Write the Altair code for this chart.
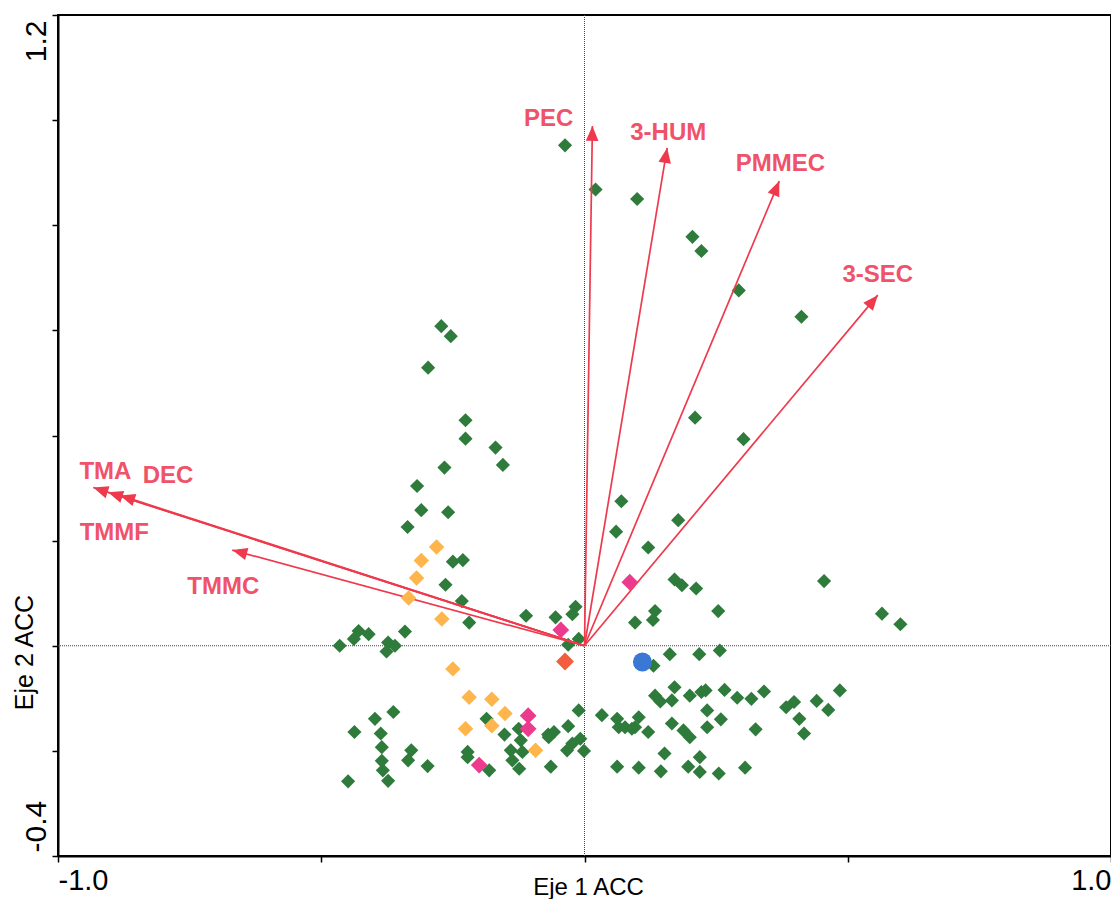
import altair as alt
import pandas as pd

# ---- site scores (Eje 1, Eje 2) ----
green_x = [-0.037, 0.021, 0.100, 0.205, 0.222, 0.293, 0.412, -0.272, -0.254, -0.297,
           0.210, 0.302, -0.226, -0.226, -0.169, -0.155, -0.266, -0.318, 0.070, 0.178,
           0.060, 0.121, -0.310, -0.259, -0.336, -0.250, -0.231, -0.264, -0.233, -0.219,
           -0.111, -0.055, -0.017, -0.023, -0.341, -0.429, -0.410, -0.438, -0.465, -0.373,
           -0.360, -0.376, -0.031, -0.011, 0.096, 0.171, 0.185, 0.212, 0.455, 0.134,
           0.130, 0.254, 0.565, 0.600, 0.162, 0.218, 0.257, 0.131, 0.171, 0.134,
           0.144, 0.166, 0.200, 0.222, 0.230, 0.266, 0.290, 0.317, 0.341, 0.383,
           0.398, 0.441, 0.463, 0.485, 0.408, 0.417, -0.011, 0.033, 0.062, 0.065,
           0.077, 0.103, 0.096, 0.090, 0.121, 0.166, 0.188, 0.200, 0.233, 0.233,
           0.259, 0.325, -0.008, -0.001, 0.152, 0.062, 0.103, 0.145, 0.197, 0.219,
           0.219, 0.255, 0.305, -0.363, -0.398, -0.437, -0.387, -0.385, -0.329, -0.335,
           -0.385, -0.383, -0.298, -0.449, -0.373, -0.222, -0.222, -0.186, -0.181, -0.152,
           -0.125, -0.121, -0.140, -0.118, -0.137, -0.124, -0.069, -0.058, -0.068, -0.031,
           -0.023, -0.033, -0.064]
green_y = [0.952, 0.868, 0.850, 0.778, 0.751, 0.676, 0.626, 0.608, 0.589, 0.529,
           0.434, 0.393, 0.429, 0.394, 0.377, 0.344, 0.339, 0.304, 0.275, 0.239,
           0.217, 0.187, 0.258, 0.254, 0.226, 0.160, 0.163, 0.116, 0.085, 0.044,
           0.057, 0.054, 0.074, 0.060, 0.027, 0.028, 0.022, 0.013, 0.000, 0.006,
           0.000, -0.011, 0.002, 0.013, 0.044, 0.126, 0.115, 0.109, 0.123, 0.066,
           0.049, 0.066, 0.061, 0.041, -0.016, -0.016, -0.009, -0.038, -0.079, -0.095,
           -0.106, -0.104, -0.095, -0.088, -0.085, -0.084, -0.099, -0.101, -0.087, -0.117,
           -0.107, -0.105, -0.122, -0.085, -0.139, -0.167, -0.123, -0.132, -0.139, -0.155,
           -0.155, -0.136, -0.155, -0.158, -0.164, -0.148, -0.161, -0.174, -0.123, -0.155,
           -0.140, -0.159, -0.177, -0.200, -0.205, -0.230, -0.232, -0.239, -0.230, -0.212,
           -0.240, -0.243, -0.232, -0.126, -0.139, -0.164, -0.167, -0.193, -0.199, -0.218,
           -0.219, -0.237, -0.229, -0.258, -0.257, -0.202, -0.212, -0.139, -0.237, -0.169,
           -0.158, -0.180, -0.199, -0.202, -0.218, -0.234, -0.169, -0.164, -0.174, -0.153,
           -0.186, -0.199, -0.230]

orange_x = [-0.281, -0.310, -0.319, -0.334, -0.271, -0.250, -0.219, -0.176, -0.151, -0.226, -0.176, -0.093]
orange_y = [0.188, 0.162, 0.129, 0.091, 0.051, -0.044, -0.098, -0.102, -0.129, -0.158, -0.152, -0.199]

magenta_x = [-0.045, -0.107, -0.107, -0.200, 0.086]
magenta_y = [0.030, -0.133, -0.158, -0.227, 0.121]

red_x = [-0.037]
red_y = [-0.030]

blue_x = [0.110]
blue_y = [-0.031]

# ---- environmental vectors ----
arrow_names = ["PEC", "3-HUM", "PMMEC", "3-SEC", "TMA", "DEC", "TMMF", "TMMC"]
arrow_x = [0.015, 0.157, 0.370, 0.557, -0.933, -0.905, -0.882, -0.669]
arrow_y = [0.989, 0.947, 0.884, 0.667, 0.301, 0.292, 0.286, 0.182]
label_x = [-0.068, 0.159, 0.372, 0.557, -0.910, -0.791, -0.893, -0.686]
label_y = [1.002, 0.975, 0.917, 0.706, 0.330, 0.322, 0.214, 0.112]

# ---- axes ----
x_ticks = [-1.0, -0.5, 0.0, 0.5, 1.0]
x_tick_labels = ["-1.0", "", "", "", "1.0"]
y_ticks = [-0.4, -0.2, 0.0, 0.2, 0.4, 0.6, 0.8, 1.0, 1.2]
y_tick_labels = ["-0.4", "", "", "", "", "", "", "", "1.2"]


def label_expr(vals, labs):
    parts = []
    for v, l in zip(vals, labs):
        if l:
            parts.append(f"abs(datum.value - ({v})) < 1e-6 ? '{l}' : ")
    return "".join(parts) + "''"


FONT = "Liberation Sans"

groups = ["verde", "naranja", "magenta", "rojo", "azul"]
g_colors = ["#2E7B3C", "#FDB54C", "#EC3A8E", "#F25E3D", "#3B78D6"]
g_shapes = ["diamond", "diamond", "diamond", "diamond", "circle"]
g_sizes = [200, 360, 320, 360, 330]

pts = pd.DataFrame({
    "x": green_x + orange_x + magenta_x + red_x + blue_x,
    "y": green_y + orange_y + magenta_y + red_y + blue_y,
    "grupo": ["verde"] * len(green_x) + ["naranja"] * len(orange_x)
             + ["magenta"] * len(magenta_x) + ["rojo"] * len(red_x) + ["azul"] * len(blue_x),
})
arr = pd.DataFrame({"name": arrow_names, "ax": arrow_x, "ay": arrow_y,
                    "lx": label_x, "ly": label_y})
zero = pd.DataFrame({"z": [0.0]})

xs = alt.Scale(domain=[-1.0, 1.0], nice=False, zero=False)
ys = alt.Scale(domain=[-0.4, 1.2], nice=False, zero=False)

x_axis = alt.Axis(
    values=x_ticks, labelExpr=label_expr(x_ticks, x_tick_labels), title="Eje 1 ACC",
    grid=False, labelFlush=True, labelFont=FONT, labelFontSize=29, labelColor="black",
    labelBaseline="top", labelPadding=4, tickSize=6, tickColor="black", tickWidth=1.5,
    domainColor="black", domainWidth=2, titleFont=FONT, titleFontSize=24,
    titleFontWeight="normal", titleColor="black", titleX=530, titleY=38,
    titleAlign="center", titleBaseline="alphabetic",
)
y_axis = alt.Axis(
    values=y_ticks, labelExpr=label_expr(y_ticks, y_tick_labels), title="Eje 2 ACC",
    grid=False, labelFont=FONT, labelFontSize=30, labelColor="black", labelAngle=270,
    labelAlign={"condition": {"test": "datum.value > 0.5", "value": "right"}, "value": "left"},
    labelOffset={"condition": {"test": "datum.value > 0.5", "value": 5}, "value": -4},
    labelBaseline="alphabetic", labelPadding=7, tickSize=6, tickColor="black", tickWidth=1.5,
    domainColor="black", domainWidth=2, titleFont=FONT, titleFontSize=25,
    titleFontWeight="normal", titleColor="black", titleAngle=270, titleX=-26, titleY=637,
    titleAlign="center", titleBaseline="alphabetic",
)


def X(f):
    return alt.X(f, type="quantitative", scale=xs, axis=x_axis)


def Y(f):
    return alt.Y(f, type="quantitative", scale=ys, axis=y_axis)


zero_v = alt.Chart(zero).mark_rule(color="#444444", strokeWidth=1, strokeDash=[1, 1]).encode(x=X("z"))
zero_h = alt.Chart(zero).mark_rule(color="#444444", strokeWidth=1, strokeDash=[1, 1]).encode(y=Y("z"))

green_layer = alt.Chart(pts).transform_filter("datum.grupo == 'verde'").mark_point(
    filled=True, opacity=1, shape="diamond", size=g_sizes[0], color=g_colors[0]
).encode(x=X("x"), y=Y("y"))

other_layer = alt.Chart(pts).transform_filter("datum.grupo != 'verde'").mark_point(
    filled=True, opacity=1
).encode(
    x=X("x"), y=Y("y"),
    color=alt.Color("grupo:N", scale=alt.Scale(domain=groups, range=g_colors), legend=None),
    shape=alt.Shape("grupo:N", scale=alt.Scale(domain=groups, range=g_shapes), legend=None),
    size=alt.Size("grupo:N", scale=alt.Scale(domain=groups, range=g_sizes), legend=None),
)

ARROW = "#EE3A4C"
lines = alt.Chart(arr).transform_calculate(ox="0", oy="0").mark_rule(
    color=ARROW, strokeWidth=1.7
).encode(x=X("ox"), y=Y("oy"), x2="ax:Q", y2="ay:Q")

heads = alt.Chart(arr).transform_calculate(
    ang="(atan2(datum.ax, datum.ay) * 180 / PI + 360) % 360"
).mark_point(
    shape="M0,0L-0.42,1L0.42,1Z", filled=True, opacity=1, size=900, color=ARROW
).encode(x=X("ax"), y=Y("ay"), angle=alt.Angle("ang:Q", scale=None))

labels = alt.Chart(arr).mark_text(
    font=FONT, fontSize=24, fontWeight="bold", color="#F0526A", align="center", baseline="middle"
).encode(x=X("lx"), y=Y("ly"), text="name:N")

chart = alt.layer(zero_v, zero_h, green_layer, lines, heads, other_layer, labels).properties(
    width=1053, height=841, autosize="none",
    padding={"left": 50, "top": 7, "right": 0, "bottom": 43},
    background="white",
).configure_view(stroke="black", strokeWidth=2)

chart.save("out.html", embed_options={"renderer": "svg", "actions": False})
